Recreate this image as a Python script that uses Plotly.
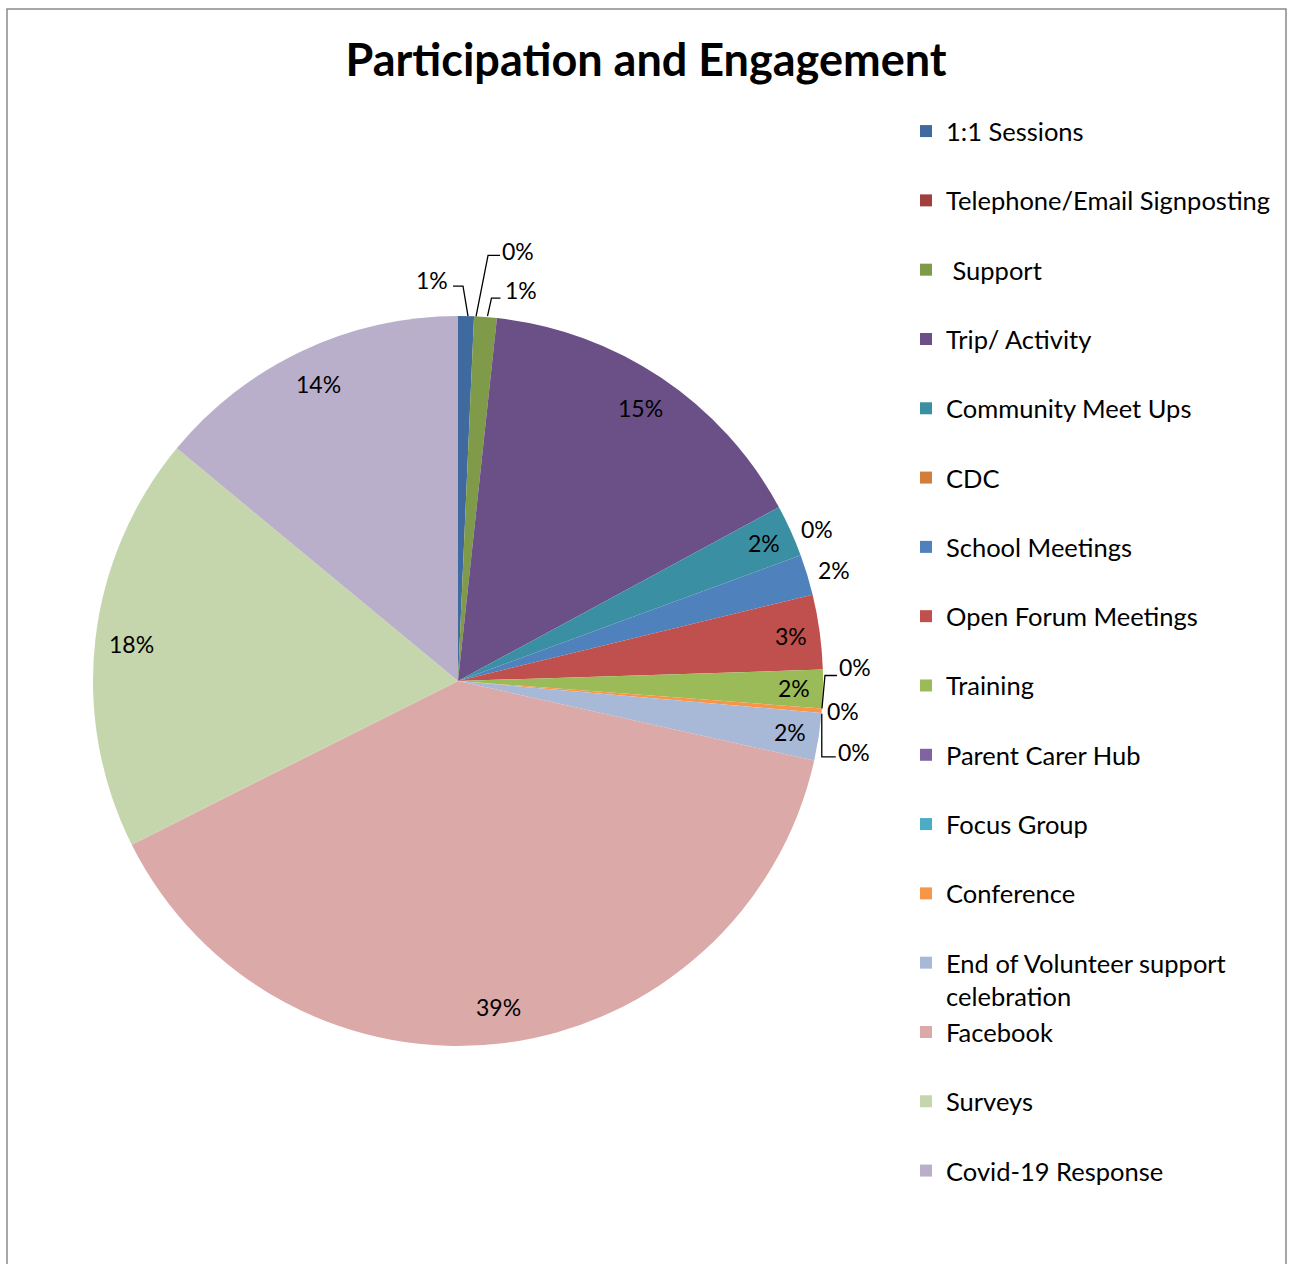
import plotly.graph_objects as go

# ---- data -------------------------------------------------------------
categories = [
    "1:1 Sessions",
    "Telephone/Email Signposting",
    "\u00a0Support",
    "Trip/ Activity",
    "Community Meet Ups",
    "CDC",
    "School Meetings",
    "Open Forum Meetings",
    "Training",
    "Parent Carer Hub",
    "Focus Group",
    "Conference",
    "End of Volunteer support<br>celebration",
    "Facebook",
    "Surveys",
    "Covid-19 Response",
]
values = [7, 0, 10, 154, 23, 0, 18, 33, 17, 0, 0, 2, 21, 391, 184, 140]

colors = [
    "#3E6A9F", "#A0403E", "#7F9A48", "#6A5086", "#3A8FA2", "#D07E3A",
    "#4F81BD", "#C0504D", "#9BBB59", "#8064A2", "#4BACC6", "#F79646",
    "#A8B9D8", "#DAA9A8", "#C6D6AC", "#B9AFCA",
]

title_text = "Participation and Engagement"

# ---- layout geometry (pixels) ----------------------------------------
W, H = 1290, 1264
CX, CY, R = 458, 681, 365
FONT = "Lato, 'Open Sans', sans-serif"
LABEL_SIZE = 23

# outside-label placement: offsets from the slice's rim point,
# optional elbow leader line
outside = {
    0: dict(label=(-34, -36), leader=[(2, 0), (-3, -30), (-13, -30)]),
    1: dict(label=(44, -65), leader=[(2, 0), (14, -61), (26, -61)]),
    2: dict(label=(36, -27), leader=[(2, -1), (6, -19), (15, -19)]),
    5: dict(label=(16, -26)),
    6: dict(label=(27, -5)),
    9: dict(label=(33, -41), leader=[(0, 0), (3, -33), (15, -33)]),
    10: dict(label=(21, 3)),
    11: dict(label=(32, 41), leader=[(0, 3), (0, 46), (14, 46)]),
}

import math


def px(x, y):
    return x / W, 1 - y / H


def rim(theta_deg, r):
    t = math.radians(theta_deg)
    return CX + r * math.sin(t), CY - r * math.cos(t)


total = float(sum(values))
# legend entries all share two text lines so spacing is uniform
legend_labels = [c if "<br>" in c else c + "<br> " for c in categories]

fig = go.Figure(
    go.Pie(
        labels=legend_labels,
        values=values,
        marker=dict(colors=colors, line=dict(width=0)),
        sort=False,
        direction="clockwise",
        rotation=0,
        textinfo="none",
        hoverinfo="label+percent",
        domain=dict(
            x=[(CX - R) / W, (CX + R) / W],
            y=[1 - (CY + R) / H, 1 - (CY - R) / H],
        ),
    )
)

annotations = []
shapes = []
cum = 0.0
for i, v in enumerate(values):
    a0 = 360 * cum / total
    cum += v
    a1 = 360 * cum / total
    mid = (a0 + a1) / 2
    pct = 100 * v / total
    txt = f"{int(pct + 0.5)}%"
    if i in outside:
        ax, ay = rim(mid, R)
        lx, ly = outside[i]["label"]
        x, y = px(ax + lx, ay + ly)
        annotations.append(dict(x=x, y=y, xref="paper", yref="paper", text=txt,
                                showarrow=False, xanchor="center", yanchor="middle",
                                font=dict(size=LABEL_SIZE, color="black", family=FONT)))
        if "leader" in outside[i]:
            pts = [px(ax + dx, ay + dy) for dx, dy in outside[i]["leader"]]
            path = "M " + " L ".join(f"{p[0]:.5f},{p[1]:.5f}" for p in pts)
            shapes.append(dict(type="path", xref="paper", yref="paper", path=path,
                               line=dict(color="black", width=1.3)))
    else:
        frac = 0.90 if pct > 5 else 0.92
        x, y = px(*rim(mid, frac * R))
        annotations.append(dict(x=x, y=y, xref="paper", yref="paper", text=txt,
                                showarrow=False, xanchor="center", yanchor="middle",
                                font=dict(size=LABEL_SIZE, color="black", family=FONT)))

# chart-area frame
shapes.append(dict(type="rect", xref="paper", yref="paper",
                   x0=7 / W, x1=1286 / W, y0=-0.05, y1=1 - 9 / H,
                   line=dict(color="#8A8A8A", width=1.5), fillcolor="rgba(0,0,0,0)"))

fig.update_layout(
    width=W,
    height=H,
    margin=dict(l=0, r=0, t=0, b=0),
    paper_bgcolor="white",
    plot_bgcolor="white",
    title=dict(text=f"<b>{title_text}</b>", x=646 / W, xanchor="center",
               y=1 - 60 / H, yanchor="middle",
               font=dict(size=45, color="black", family=FONT)),
    legend=dict(
        x=906 / W, xanchor="left",
        y=1 - 108 / H, yanchor="top",
        valign="top",
        font=dict(size=25.5, color="black", family=FONT),
        bgcolor="rgba(0,0,0,0)",
        borderwidth=0,
        traceorder="normal",
    ),
    annotations=annotations,
    shapes=shapes,
    showlegend=True,
)

fig.write_html("out.html")
